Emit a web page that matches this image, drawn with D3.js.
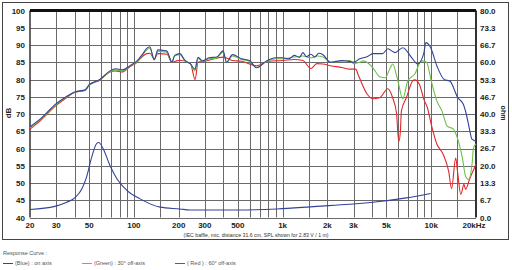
<!DOCTYPE html>
<html>
<head>
<meta charset="utf-8">
<script src="https://cdn.jsdelivr.net/npm/d3@7"></script>
<style>
  body { margin: 0; background: #fff; }
  svg text { font-family: "Liberation Sans", Arial, sans-serif; }
</style>
</head>
<body>
<svg id="chart" width="512" height="270"></svg>
<script>
// frequency response
var blueFreq = [20, 23.4, 30, 35, 40, 47, 50, 59, 69, 75, 84, 94, 105, 115, 122, 128, 137, 145, 160, 167, 180, 188, 204, 220, 240, 257, 270, 290, 320, 360, 398, 420, 460, 530, 600, 667, 780, 900, 1000, 1100, 1200, 1300, 1370, 1450, 1550, 1650, 1750, 1870, 2100, 2500, 2840, 3000, 3310, 3700, 4050, 4700, 5100, 5700, 6440, 7400, 8100, 8900, 9200, 9900, 10900, 12300, 13300, 15100, 16400, 17200, 18000, 18800, 20000];
var blueDb   = [66.3, 68.5, 73, 75, 76.4, 77, 78.5, 80, 82.5, 83.1, 82.8, 84, 85.4, 87.5, 89, 89.5, 85.7, 88.6, 88.4, 88.2, 85, 87, 87.5, 85.6, 84.5, 83, 86.4, 85.4, 86.3, 86.5, 88.3, 85, 87.2, 86, 85.5, 83.4, 85.4, 86.3, 86.3, 86.0, 87, 86.4, 87.8, 86.6, 87.3, 86.5, 87.6, 87.2, 85, 85.5, 85.2, 85, 86, 86.6, 87.5, 87.5, 88.9, 87.8, 89.2, 86.3, 84.5, 87.5, 90.7, 89.3, 84, 79.9, 79.6, 74.7, 72.9, 70, 66, 62.7, 62.1];

var greenFreq = [20, 23.4, 30, 35, 40, 47, 50, 59, 69, 75, 84, 94, 105, 115, 122, 128, 137, 145, 160, 167, 180, 188, 204, 220, 240, 257, 270, 290, 320, 360, 398, 420, 460, 530, 600, 667, 780, 900, 1000, 1200, 1370, 1550, 1700, 1870, 2100, 2500, 2840, 3000, 3310, 3500, 4050, 4500, 4900, 5300, 5500, 5900, 6440, 6950, 7750, 8600, 9300, 10000, 10900, 11800, 12800, 14100, 15000, 16200, 17000, 17800, 18900, 19200, 20000];
var greenDb   = [66.1, 68.3, 72.8, 74.8, 76.3, 76.9, 78.4, 79.9, 82.3, 82.8, 82.5, 83.8, 85.2, 87.2, 88.6, 89, 85.8, 88.2, 88, 87.8, 85, 86.8, 87.2, 85.4, 84.5, 82.5, 86, 85.2, 86, 86.2, 88, 85, 86.8, 85.8, 85.3, 83.5, 85.2, 86, 86, 86.5, 86.8, 86.3, 86.8, 86.5, 85, 85.3, 85.5, 84.6, 85, 85.4, 83.4, 80.8, 80.5, 83.4, 84.5, 80.5, 74.4, 79.6, 81.6, 85.4, 85, 79.6, 73.8, 70.9, 66.5, 65.6, 63, 57.2, 52, 51, 56.3, 60.1, 61.3];

var redFreq = [20, 23.4, 30, 35, 40, 47, 50, 59, 69, 75, 84, 94, 105, 115, 122, 128, 137, 145, 167, 180, 190, 204, 240, 258, 270, 300, 400, 460, 530, 667, 800, 1000, 1200, 1370, 1550, 1700, 1870, 2100, 2500, 2840, 3100, 3250, 3700, 4050, 4500, 5100, 5500, 5850, 5950, 6050, 6200, 6300, 6800, 7500, 7750, 8300, 9000, 9400, 10000, 10900, 12000, 13100, 13700, 14600, 15100, 15800, 16600, 17000, 18200, 19700, 20000];
var redDb   = [65.6, 68, 72.5, 74.6, 76.3, 76.8, 78.3, 79.8, 82.2, 82.5, 82.2, 83.7, 85, 86.8, 87.5, 87.6, 86, 87.5, 87.3, 85, 85.3, 85.6, 84.6, 80, 85, 85.3, 86.5, 85.5, 85.3, 84, 85.3, 85.5, 85.8, 85.5, 83.2, 84.6, 84.5, 84, 83.5, 83, 83, 81, 75.8, 74.4, 74.7, 77.3, 74.7, 70, 65, 62, 65, 70.9, 74.7, 79.6, 79.9, 78.7, 73.8, 72, 67, 61.3, 58.4, 53.4, 48.4, 57.2, 52.5, 46.7, 49.6, 48.2, 51.4, 54.8, 55.5];

// impedance in ohm (right axis)
var impFreq = [20, 29.4, 35.3, 40, 44.8, 48, 52, 56, 58, 62, 69, 77, 90, 110, 150, 204, 238, 494, 918, 1690, 2830, 4040, 6800, 9900];
var impOhm  = [3.1, 4.3, 5.9, 7.6, 11.2, 15.6, 23.3, 28.5, 29, 26.7, 20.1, 14.9, 10.4, 7.2, 4, 3.3, 2.9, 2.9, 3.3, 4.3, 5.1, 5.9, 7.6, 9.3];

var dbTicks = [40, 45, 50, 55, 60, 65, 70, 75, 80, 85, 90, 95, 100];
var ohmTicks = ["0.0", "6.7", "13.3", "20.0", "26.7", "33.3", "40.0", "46.7", "53.3", "60.0", "66.7", "73.3", "80.0"];
var freqGrid = [30, 40, 50, 60, 70, 80, 90, 100, 150, 200, 300, 400, 500, 600, 700, 800, 900, 1000, 1500, 2000, 3000, 4000, 5000, 6000, 7000, 8000, 9000, 10000, 15000];
var freqLabels = [[20, "20"], [30, "30"], [50, "50"], [100, "100"], [200, "200"], [300, "300"], [500, "500"], [1000, "1k"], [2000, "2k"], [3000, "3k"], [5000, "5k"], [10000, "10k"], [20000, "20kHz"]];

var svg = d3.select("#chart");
var plotL = 30, plotR = 476, plotT = 10.5, plotB = 217.5;

var x = d3.scaleLog().domain([20, 20000]).range([plotL, plotR]);
var y = d3.scaleLinear().domain([40, 100]).range([plotB, plotT]);
var yOhm = d3.scaleLinear().domain([0, 80]).range([plotB, plotT]);

// outer frame
svg.append("rect")
    .attr("x", 2.5).attr("y", 2.5)
    .attr("width", 506).attr("height", 237)
    .attr("fill", "#fff")
    .attr("stroke", "#444")
    .attr("stroke-width", 1);

var grid = svg.append("g").attr("stroke", "#6a6a6a").attr("stroke-width", 1);
grid.selectAll("line.h")
    .data(dbTicks)
    .enter().append("line")
    .attr("x1", plotL).attr("x2", plotR)
    .attr("y1", d => Math.round(y(d)) + 0.5)
    .attr("y2", d => Math.round(y(d)) + 0.5);
grid.selectAll("line.v")
    .data(freqGrid)
    .enter().append("line")
    .attr("x1", d => Math.round(x(d)) + 0.5)
    .attr("x2", d => Math.round(x(d)) + 0.5)
    .attr("y1", plotT).attr("y2", plotB);

// plot borders
svg.append("line").attr("x1", plotL).attr("x2", plotL).attr("y1", plotT).attr("y2", plotB)
    .attr("stroke", "#333").attr("stroke-width", 1.5);
svg.append("line").attr("x1", plotR).attr("x2", plotR).attr("y1", plotT).attr("y2", plotB)
    .attr("stroke", "#333").attr("stroke-width", 2);
svg.append("line").attr("x1", plotL).attr("x2", plotR).attr("y1", plotT).attr("y2", plotT)
    .attr("stroke", "#111").attr("stroke-width", 3);

// left dB labels
svg.append("g").selectAll("text")
    .data(dbTicks)
    .enter().append("text")
    .attr("x", 25).attr("y", d => y(d) + 3)
    .attr("text-anchor", "end")
    .attr("font-size", 8).attr("font-weight", "bold").attr("fill", "#222")
    .text(d => d);

// right ohm labels
svg.append("g").selectAll("text")
    .data(ohmTicks)
    .enter().append("text")
    .attr("x", 480).attr("y", d => yOhm(+d) + 3)
    .attr("font-size", 8).attr("font-weight", "bold").attr("fill", "#222")
    .text(d => d);

// frequency labels
svg.append("g").selectAll("text")
    .data(freqLabels)
    .enter().append("text")
    .attr("x", d => x(d[0]) + (d[1] == "20kHz" ? -2 : 0))
    .attr("y", 228)
    .attr("text-anchor", "middle")
    .attr("font-size", 8).attr("font-weight", "bold").attr("fill", "#222")
    .text(d => d[1]);

svg.append("text")
    .attr("transform", "translate(11,113) rotate(-90)")
    .attr("text-anchor", "middle")
    .attr("font-size", 8).attr("font-weight", "bold").attr("fill", "#222")
    .text("dB");
svg.append("text")
    .attr("transform", "translate(501,113) rotate(90)")
    .attr("text-anchor", "middle")
    .attr("font-size", 7).attr("font-weight", "bold").attr("fill", "#222")
    .text("ohm");

svg.append("text")
    .attr("x", 256).attr("y", 236.5)
    .attr("text-anchor", "middle")
    .attr("font-size", 5.2).attr("fill", "#333")
    .text("(IEC baffle, mic. distance 31.6 cm, SPL shown for 2.83 V / 1 m)");

var line = d3.line().curve(d3.curveMonotoneX);

function drawCurve(freqs, vals, scale, color) {
    var pts = freqs.map((f, i) => [x(f), scale(vals[i])]);
    svg.append("path")
        .attr("d", line(pts))
        .attr("fill", "none")
        .attr("stroke", color)
        .attr("stroke-width", 1.1)
        .attr("stroke-linejoin", "round");
}

var blue = "#34439a", green = "#6cc04a", red = "#e5252a";
drawCurve(impFreq, impOhm, yOhm, blue);
drawCurve(redFreq, redDb, y, red);
drawCurve(greenFreq, greenDb, y, green);
drawCurve(blueFreq, blueDb, y, blue);

// legend below the frame
svg.append("text")
    .attr("x", 3).attr("y", 255)
    .attr("font-size", 5.5).attr("fill", "#555")
    .text("Response Curve :");

var legend = [[3, blue, "(Blue) : on axis"], [82, green, "(Green) : 30\u00b0 off-axis"], [175, red, "( Red ) : 60\u00b0 off-axis"]];
var lg = svg.append("g").selectAll("g")
    .data(legend)
    .enter().append("g")
    .attr("transform", d => `translate(${d[0]}, 265)`);
lg.append("line")
    .attr("x1", 0).attr("x2", 10).attr("y1", -1.5).attr("y2", -1.5)
    .attr("stroke", d => d[1]).attr("stroke-width", 1);
lg.append("text")
    .attr("x", 12).attr("y", 0)
    .attr("font-size", 5.5).attr("fill", "#555")
    .text(d => d[2]);
</script>
</body>
</html>
